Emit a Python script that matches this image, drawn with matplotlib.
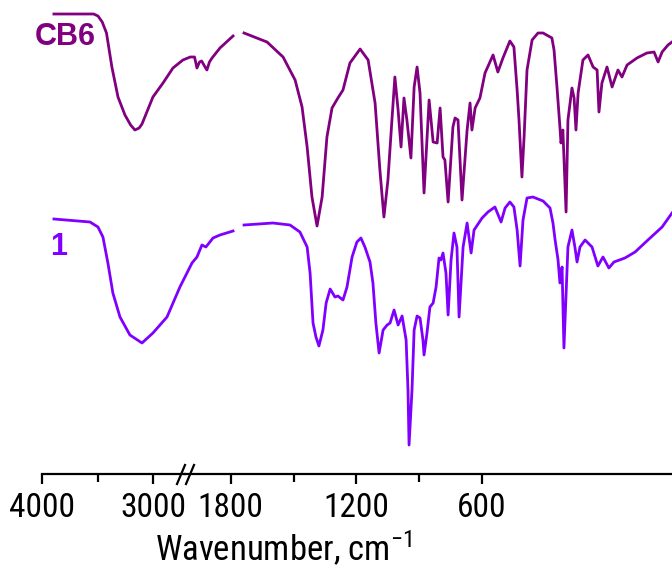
import matplotlib
matplotlib.use('Agg')
import matplotlib.pyplot as plt
from matplotlib.lines import Line2D

plt.rcParams['font.family'] = ['Roboto Condensed', 'Liberation Sans', 'DejaVu Sans']
plt.rcParams['mathtext.fontset'] = 'custom'
plt.rcParams['mathtext.rm'] = 'Roboto Condensed'
plt.rcParams['mathtext.default'] = 'regular'

# IR spectra, transmittance in arbitrary (offset) units
cb6_hi_wn = [4000, 3850, 3720, 3690, 3660, 3630, 3592, 3549, 3500, 3460, 3430, 3400,
             3380, 3303, 3232, 3162, 3092, 3040, 3010, 2993, 2975, 2960, 2940, 2923,
             2905, 2887, 2831, 2739]
cb6_hi_t = [466, 466, 466, 464, 458, 447, 413, 383, 365, 355, 350, 352,
            356, 383, 397, 412, 420, 423, 423, 412, 418, 419, 414, 410,
            418, 422, 432, 444]

cb6_lo_wn = [2000, 1914, 1854, 1809, 1783, 1764, 1746, 1727, 1708, 1690, 1671, 1649,
             1630, 1604, 1566, 1536, 1510, 1492, 1477, 1462, 1447, 1436, 1424, 1413,
             1402, 1391, 1376, 1364, 1353, 1342, 1327, 1308, 1293, 1278, 1267, 1256,
             1249, 1237, 1219, 1211, 1200, 1185, 1166, 1155, 1148, 1136, 1118, 1099,
             1069, 1051, 1032, 1006, 991, 979, 972, 961, 953, 942, 923, 901,
             882, 849, 841, 830, 819, 815, 808, 796, 789, 774, 766, 759,
             751, 733, 714, 695, 680, 673, 662, 643, 624, 602, 587, 568,
             531, 494, 467, 452, 437, 415, 400]
cb6_lo_t = [447, 438, 423, 400, 373, 333, 283, 254, 283, 343, 372, 382,
            390, 417, 431, 420, 377, 310, 263, 300, 360, 403, 370, 333,
            382, 360, 322, 393, 413, 387, 287, 380, 338, 337, 372, 323,
            320, 278, 353, 362, 360, 280, 350, 377, 350, 372, 382, 407,
            425, 408, 422, 439, 433, 390, 360, 303, 343, 410, 440, 447,
            447, 442, 430, 393, 353, 337, 350, 268, 360, 392, 382, 350,
            387, 420, 425, 413, 410, 368, 397, 413, 393, 410, 403, 415,
            422, 427, 428, 418, 428, 435, 438]

s1_hi_wn = [4000, 3746, 3690, 3655, 3620, 3585, 3535, 3465, 3380, 3303, 3204, 3113,
            3028, 2993, 2958, 2930, 2880, 2831, 2739]
s1_hi_t = [261, 258, 253, 243, 217, 187, 163, 145, 137, 147, 163, 193,
           217, 223, 235, 233, 242, 245, 249]

s1_lo_wn = [2000, 1892, 1828, 1791, 1764, 1753, 1742, 1731, 1720, 1705, 1693, 1678,
            1660, 1649, 1630, 1615, 1596, 1578, 1563, 1548, 1529, 1518, 1507, 1495,
            1480, 1465, 1454, 1439, 1424, 1409, 1394, 1387, 1383, 1372, 1364, 1353,
            1342, 1331, 1327, 1316, 1305, 1293, 1282, 1271, 1264, 1256, 1245, 1237,
            1226, 1215, 1204, 1196, 1181, 1166, 1151, 1140, 1110, 1088, 1062, 1039,
            1024, 1006, 991, 979, 968, 957, 942, 920, 882, 856, 845, 837,
            826, 819, 811, 804, 789, 774, 763, 755, 744, 725, 699, 677,
            658, 636, 617, 576, 538, 490, 437, 400]
s1_lo_t = [255, 257, 255, 248, 233, 207, 157, 143, 134, 150, 177, 191,
           183, 184, 180, 193, 223, 238, 242, 233, 218, 197, 157, 127,
           150, 155, 157, 170, 155, 164, 140, 90, 35, 90, 150, 164,
           162, 140, 125, 147, 173, 177, 193, 222, 220, 227, 207, 165,
           220, 247, 233, 163, 233, 257, 227, 250, 262, 268, 273, 258,
           272, 278, 273, 250, 214, 260, 282, 283, 279, 272, 257, 240,
           220, 197, 213, 132, 233, 250, 233, 218, 233, 240, 233, 214,
           223, 212, 218, 222, 228, 240, 253, 267]

cb6_color = '#800080'
s1_color = '#8000ff'

W, H = 672, 569
fig = plt.figure(figsize=(W / 100, H / 100), dpi=100)


def rect(x0, x1, y0, y1):
    return [x0 / W, 1 - y1 / H, (x1 - x0) / W, (y1 - y0) / H]


# curve panels (no frame)
ax_hi = fig.add_axes(rect(42, 240, 0, 475))
ax_lo = fig.add_axes(rect(240, 672, 0, 475))
ax_hi.set_xlim(4084, 2690)
ax_lo.set_xlim(2015, 400)
for a in (ax_hi, ax_lo):
    a.set_ylim(5, 480)
    a.axis('off')

kw = dict(lw=2.0, clip_on=False, solid_joinstyle='round')
ax_hi.plot(cb6_hi_wn, cb6_hi_t, color=cb6_color, **kw)
ax_lo.plot(cb6_lo_wn, cb6_lo_t, color=cb6_color, **kw)
ax_hi.plot(s1_hi_wn, s1_hi_t, color=s1_color, **kw)
ax_lo.plot(s1_lo_wn, s1_lo_t, color=s1_color, **kw)

# broken wavenumber axis
tk_left = fig.add_axes(rect(42, 185, 0, 474))
tk_right = fig.add_axes(rect(185, 672, 0, 474))
tk_left.set_xlim(4000, 2712)
tk_right.set_xlim(2019, -310)
tk_left.set_xticks([4000, 3000])
tk_left.set_xticks([3500], minor=True)
tk_right.set_xticks([1800, 1200, 600])
tk_right.set_xticks([1500, 900], minor=True)
for a in (tk_left, tk_right):
    a.patch.set_visible(False)
    a.set_yticks([])
    for s in ('top', 'left', 'right'):
        a.spines[s].set_visible(False)
    a.spines['bottom'].set_linewidth(1.6)
    a.tick_params(axis='x', which='major', direction='out', length=7, width=1.6,
                  pad=6, labelsize=24)
    a.tick_params(axis='x', which='minor', direction='out', length=6, width=1.6)

# break marks
for x0 in (177, 186):
    fig.add_artist(Line2D([x0 / W, (x0 + 8) / W], [1 - 484 / H, 1 - 465 / H],
                          color='black', lw=1.6))

fig.text(284 / W, 1 - 561 / H, r'Wavenumber, cm$^{-1}$', ha='center',
         va='baseline', fontsize=25)

fig.text(35 / W, 1 - 45 / H, 'CB6', color=cb6_color, fontsize=22, fontweight='bold',
         family=['Liberation Sans', 'DejaVu Sans'], va='baseline')
fig.text(50 / W, 1 - 255 / H, '1', color=s1_color, fontsize=22, fontweight='bold',
         family=['Liberation Sans', 'DejaVu Sans'], va='baseline')

fig.savefig('out.png', dpi=100)
